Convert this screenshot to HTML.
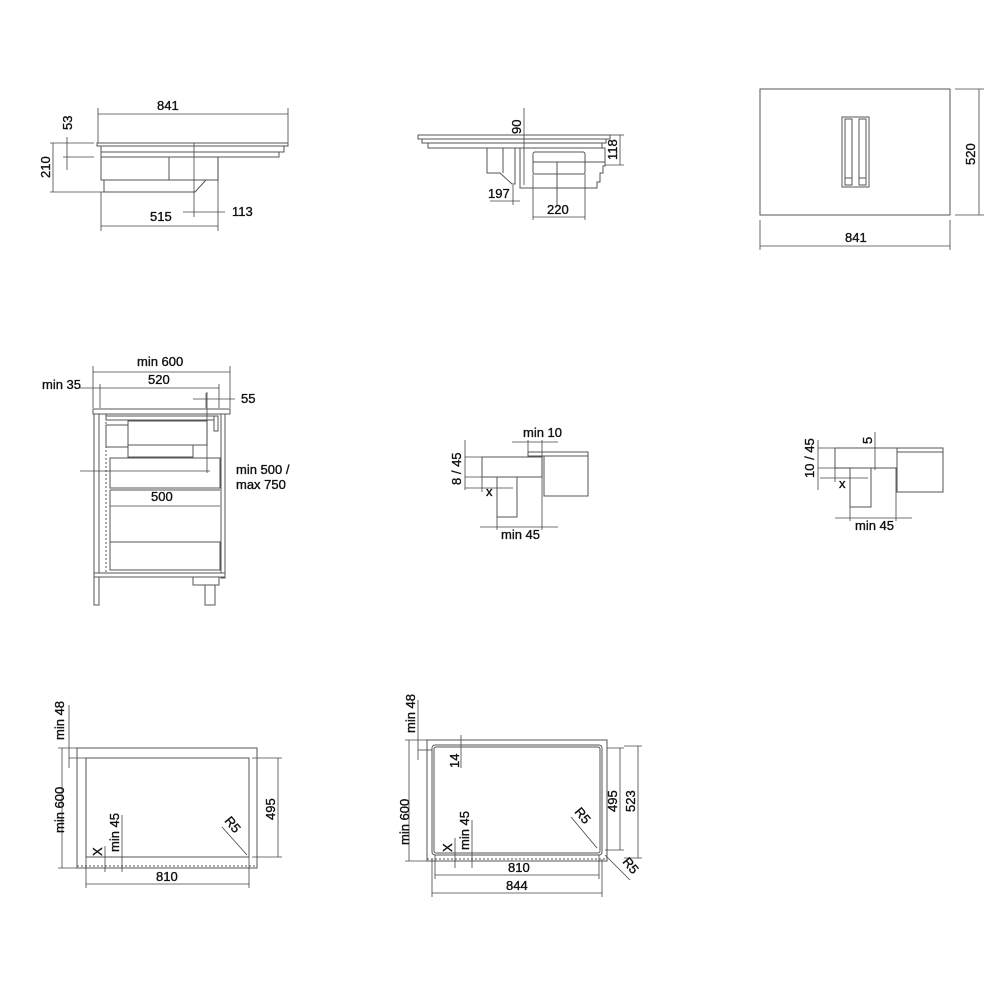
<!DOCTYPE html>
<html><head><meta charset="utf-8"><style>
html,body{margin:0;padding:0;background:#fff}
svg{display:block}
text{font-family:"Liberation Sans",sans-serif;font-size:13px;fill:#111;stroke:#111;stroke-width:0.35}
.l{stroke:#555;stroke-width:1;fill:none}
.d{stroke:#444;stroke-width:0.8;fill:none}
.w{stroke:#555;stroke-width:1;fill:#fff}
</style></head><body>
<svg width="1000" height="1000" viewBox="0 0 1000 1000" xmlns="http://www.w3.org/2000/svg">
<!-- Panel 1 -->
<g>
<line class="d" x1="98" y1="114" x2="288" y2="114"/>
<line class="d" x1="98" y1="108" x2="98" y2="143"/><line class="d" x1="288" y1="108" x2="288" y2="143"/>
<text x="157" y="110">841</text>
<rect class="w" x="97" y="143" width="191" height="3"/>
<rect class="w" x="101" y="146" width="183" height="6"/>
<rect class="w" x="101" y="152" width="178" height="5"/>
<rect class="w" x="101" y="157" width="117" height="23"/>
<line class="l" x1="169" y1="157" x2="169" y2="180"/>
<polygon class="w" points="104,182 104,192 195,192 206,180 104,180"/>
<line class="d" x1="194" y1="143" x2="194" y2="217"/>
<line class="d" x1="53" y1="143" x2="53" y2="192"/>
<line class="d" x1="50" y1="143" x2="94" y2="143"/>
<line class="d" x1="50" y1="192" x2="104" y2="192"/>
<line class="d" x1="63" y1="157" x2="94" y2="157"/>
<line class="d" x1="67" y1="137" x2="67" y2="170"/>
<text transform="translate(50,178) rotate(-90)">210</text>
<text transform="translate(72,130) rotate(-90)">53</text>
<line class="d" x1="183" y1="212" x2="225" y2="212"/>
<line class="d" x1="218" y1="157" x2="218" y2="231"/>
<text x="232" y="216">113</text>
<line class="d" x1="101" y1="226" x2="218" y2="226"/>
<line class="d" x1="101" y1="192" x2="101" y2="231"/>
<text x="150" y="221">515</text>
</g>
<!-- Panel 2 -->
<g>
<rect class="w" x="418" y="135" width="192" height="4"/>
<rect class="w" x="422" y="139" width="184" height="4"/>
<rect class="w" x="428" y="143" width="174" height="5"/>
<polygon class="w" points="487,148 515,148 515,184 512,184 500,173 487,173"/>
<line class="l" x1="503" y1="148" x2="503" y2="173"/>
<polygon class="w" points="520,148 605,148 605,166 603,166 603,173 600,173 600,182 597,182 597,188 520,188"/>
<rect class="l" x="533" y="152" width="52" height="22" rx="2"/>
<line class="l" x1="533" y1="162" x2="605" y2="162"/>
<line class="l" x1="557" y1="162" x2="557" y2="205"/>
<line class="d" x1="524" y1="108" x2="524" y2="185"/>
<text transform="translate(521,134) rotate(-90)">90</text>
<line class="d" x1="620" y1="135" x2="620" y2="165"/>
<line class="d" x1="610" y1="135" x2="624" y2="135"/><line class="d" x1="605" y1="165" x2="624" y2="165"/>
<text transform="translate(617,160) rotate(-90)">118</text>
<line class="d" x1="490" y1="201" x2="520" y2="201"/>
<line class="d" x1="513" y1="185" x2="513" y2="205"/>
<text x="488" y="198">197</text>
<line class="d" x1="533" y1="217" x2="585" y2="217"/>
<line class="d" x1="533" y1="174" x2="533" y2="220"/><line class="d" x1="585" y1="174" x2="585" y2="220"/>
<text x="547" y="214">220</text>
</g>
<!-- Panel 3 -->
<g>
<rect class="l" x="760" y="89" width="190" height="126"/>
<rect class="l" x="842" y="117" width="27" height="70"/>
<rect class="l" x="845" y="119" width="7" height="66"/>
<rect class="l" x="859" y="119" width="7" height="66"/>
<line class="l" x1="845" y1="178" x2="852" y2="178"/><line class="l" x1="859" y1="178" x2="866" y2="178"/>
<line class="d" x1="979" y1="89" x2="979" y2="215"/>
<line class="d" x1="955" y1="89" x2="984" y2="89"/><line class="d" x1="955" y1="215" x2="984" y2="215"/>
<text transform="translate(975,165) rotate(-90)">520</text>
<line class="d" x1="760" y1="246" x2="950" y2="246"/>
<line class="d" x1="760" y1="220" x2="760" y2="250"/><line class="d" x1="950" y1="220" x2="950" y2="250"/>
<text x="845" y="242">841</text>
</g>
<!-- Panel 4 -->
<g>
<line class="d" x1="93" y1="372" x2="230" y2="372"/>
<line class="d" x1="93" y1="366" x2="93" y2="408"/><line class="d" x1="230" y1="366" x2="230" y2="408"/>
<text x="137" y="366">min 600</text>
<line class="d" x1="80" y1="388" x2="219" y2="388"/>
<line class="d" x1="100" y1="384" x2="100" y2="408"/><line class="d" x1="219" y1="384" x2="219" y2="408"/>
<text x="148" y="384">520</text>
<text x="42" y="389">min 35</text>
<line class="d" x1="193" y1="399" x2="235" y2="399"/>
<line class="d" x1="206" y1="393" x2="206" y2="408"/>
<text x="241" y="403">55</text>
<rect class="w" x="93" y="409" width="137" height="5"/>
<rect class="w" x="94" y="414" width="5" height="191"/>
<rect class="w" x="221" y="414" width="4" height="164"/>
<line class="l" x1="106" y1="414" x2="106" y2="573" stroke-dasharray="2,2"/>
<rect class="w" x="94" y="573" width="131" height="4"/>
<rect class="w" x="106" y="416" width="109" height="4"/>
<rect class="w" x="214" y="416" width="4" height="15"/>
<rect class="l" x="106" y="425" width="22" height="22"/>
<rect class="w" x="128" y="421" width="79" height="24"/>
<rect class="w" x="128" y="445" width="65" height="12"/>
<rect class="l" x="110" y="458" width="110" height="30"/>
<line class="l" x1="110" y1="490" x2="220" y2="490"/>
<line class="l" x1="110" y1="490" x2="110" y2="512"/>
<rect class="l" x="110" y="542" width="110" height="28"/>
<line class="l" x1="110" y1="512" x2="110" y2="570"/>
<rect class="w" x="193" y="577" width="26" height="8"/>
<rect class="w" x="205" y="585" width="10" height="20"/>
<line class="d" x1="80" y1="471" x2="210" y2="471"/>
<line class="d" x1="207" y1="392" x2="207" y2="473"/>
<text x="236" y="474">min 500 /</text>
<text x="236" y="489">max 750</text>
<line class="d" x1="110" y1="506" x2="220" y2="506"/>
<text x="151" y="501">500</text>
</g>
<!-- Panel 5 -->
<g>
<rect class="w" x="528" y="452" width="60" height="4"/>
<rect class="w" x="544" y="456" width="44" height="40"/>
<rect class="w" x="482" y="457" width="60" height="20"/>
<rect class="w" x="497" y="477" width="20" height="40"/>
<line class="d" x1="542" y1="440" x2="542" y2="530"/>
<line class="d" x1="528" y1="440" x2="528" y2="452"/>
<line class="d" x1="512" y1="442" x2="558" y2="442"/>
<text x="523" y="437">min 10</text>
<line class="d" x1="465" y1="440" x2="465" y2="490"/>
<line class="d" x1="465" y1="457" x2="482" y2="457"/><line class="d" x1="465" y1="477" x2="482" y2="477"/>
<text transform="translate(461,485) rotate(-90)">8 / 45</text>
<line class="d" x1="465" y1="488" x2="513" y2="488"/>
<line class="d" x1="482" y1="477" x2="482" y2="492"/>
<text x="486" y="496">x</text>
<line class="d" x1="480" y1="527" x2="558" y2="527"/>
<line class="d" x1="497" y1="517" x2="497" y2="530"/>
<text x="501" y="539">min 45</text>
</g>
<!-- Panel 6 -->
<g>
<rect class="w" x="882" y="448" width="61" height="4"/>
<rect class="w" x="897" y="452" width="46" height="40"/>
<rect class="w" x="835" y="448" width="62" height="20"/>
<rect class="w" x="850" y="468" width="21" height="39"/>
<line class="d" x1="818" y1="440" x2="818" y2="490"/>
<line class="d" x1="818" y1="448" x2="835" y2="448"/><line class="d" x1="818" y1="468" x2="850" y2="468"/>
<text transform="translate(814,478) rotate(-90)">10 / 45</text>
<line class="d" x1="875" y1="432" x2="875" y2="470"/>
<text transform="translate(872,444) rotate(-90)">5</text>
<line class="d" x1="820" y1="478" x2="868" y2="478"/>
<line class="d" x1="835" y1="468" x2="835" y2="482"/>
<text x="839" y="488">x</text>
<line class="d" x1="835" y1="518" x2="912" y2="518"/>
<line class="d" x1="896" y1="468" x2="896" y2="521"/>
<line class="d" x1="850" y1="507" x2="850" y2="521"/>
<text x="855" y="530">min 45</text>
</g>
<!-- Panel 7 -->
<g>
<rect class="l" x="77" y="748" width="180" height="120"/>
<rect class="l" x="86" y="758" width="163" height="99"/>
<line class="l" x1="77" y1="866" x2="257" y2="866" stroke-dasharray="2,2"/>
<line class="d" x1="62" y1="748" x2="62" y2="868"/>
<line class="d" x1="58" y1="748" x2="77" y2="748"/><line class="d" x1="58" y1="868" x2="77" y2="868"/>
<text transform="translate(64,833) rotate(-90)">min 600</text>
<line class="d" x1="69" y1="705" x2="69" y2="768"/>
<line class="d" x1="69" y1="758" x2="86" y2="758"/>
<text transform="translate(64,740) rotate(-90)">min 48</text>
<line class="d" x1="278" y1="758" x2="278" y2="857"/>
<line class="d" x1="252" y1="758" x2="282" y2="758"/><line class="d" x1="252" y1="857" x2="282" y2="857"/>
<text transform="translate(275,820) rotate(-90)">495</text>
<line class="d" x1="86" y1="884" x2="249" y2="884"/>
<line class="d" x1="86" y1="857" x2="86" y2="888"/><line class="d" x1="249" y1="857" x2="249" y2="888"/>
<text x="156" y="881">810</text>
<line class="d" x1="105" y1="846" x2="105" y2="872"/>
<text transform="translate(102,856) rotate(-90)">X</text>
<line class="d" x1="122" y1="815" x2="122" y2="872"/>
<text transform="translate(119,852) rotate(-90)">min 45</text>
<line class="d" x1="222" y1="827" x2="247" y2="855"/>
<text transform="translate(224,821) rotate(50)">R5</text>
</g>
<!-- Panel 8 -->
<g>
<rect class="l" x="427" y="740" width="180" height="121"/>
<rect class="l" x="432" y="745" width="170" height="110" rx="3"/>
<rect class="l" x="434" y="747" width="166" height="106" rx="2"/>
<line class="l" x1="427" y1="859" x2="607" y2="859" stroke-dasharray="2,2"/>
<line class="d" x1="409" y1="740" x2="409" y2="861"/>
<line class="d" x1="405" y1="740" x2="427" y2="740"/><line class="d" x1="405" y1="861" x2="427" y2="861"/>
<text transform="translate(409,845) rotate(-90)">min 600</text>
<line class="d" x1="418" y1="700" x2="418" y2="760"/>
<line class="d" x1="418" y1="750" x2="432" y2="750"/>
<text transform="translate(415,733) rotate(-90)">min 48</text>
<line class="d" x1="461" y1="735" x2="461" y2="768"/>
<text transform="translate(459,768) rotate(-90)">14</text>
<line class="d" x1="620" y1="748" x2="620" y2="850"/>
<line class="d" x1="607" y1="748" x2="624" y2="748"/><line class="d" x1="605" y1="850" x2="624" y2="850"/>
<text transform="translate(617,812) rotate(-90)">495</text>
<line class="d" x1="638" y1="746" x2="638" y2="858"/>
<line class="d" x1="624" y1="746" x2="642" y2="746"/><line class="d" x1="624" y1="858" x2="642" y2="858"/>
<text transform="translate(635,812) rotate(-90)">523</text>
<line class="d" x1="435" y1="875" x2="599" y2="875"/>
<line class="d" x1="435" y1="855" x2="435" y2="879"/><line class="d" x1="599" y1="855" x2="599" y2="879"/>
<text x="508" y="872">810</text>
<line class="d" x1="432" y1="893" x2="602" y2="893"/>
<line class="d" x1="432" y1="859" x2="432" y2="897"/><line class="d" x1="602" y1="859" x2="602" y2="897"/>
<text x="506" y="890">844</text>
<line class="d" x1="455" y1="838" x2="455" y2="868"/>
<text transform="translate(452,852) rotate(-90)">X</text>
<line class="d" x1="472" y1="820" x2="472" y2="868"/>
<text transform="translate(469,850) rotate(-90)">min 45</text>
<line class="d" x1="571" y1="817" x2="597" y2="848"/>
<text transform="translate(574,812) rotate(50)">R5</text>
<line class="d" x1="605" y1="855" x2="630" y2="880"/>
<text transform="translate(622,862) rotate(50)">R5</text>
</g>
</svg>
</body></html>
